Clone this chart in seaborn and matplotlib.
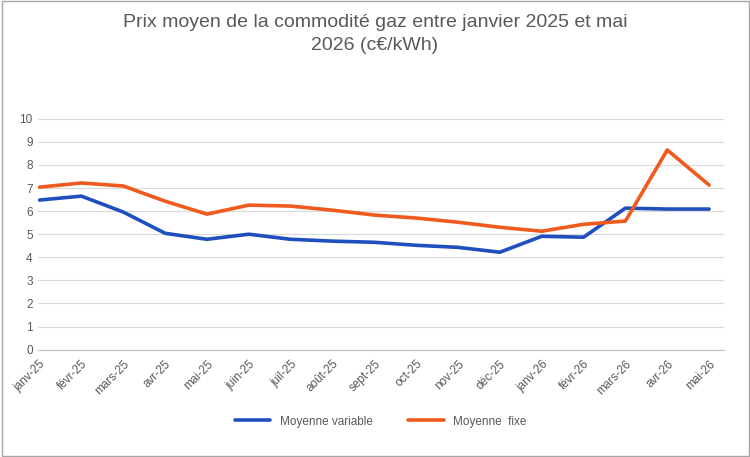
import matplotlib
matplotlib.use("Agg")
import matplotlib.pyplot as plt
import pandas as pd
import seaborn as sns

months = ["janv-25", "févr-25", "mars-25", "avr-25", "mai-25", "juin-25", "juil-25",
          "août-25", "sept-25", "oct-25", "nov-25", "déc-25", "janv-26", "févr-26",
          "mars-26", "avr-26", "mai-26"]
variable = [6.48, 6.65, 5.96, 5.04, 4.78, 5.0, 4.78, 4.7, 4.65, 4.52, 4.43, 4.22,
            4.91, 4.87, 6.13, 6.09, 6.09]
fixe = [7.04, 7.22, 7.09, 6.43, 5.87, 6.26, 6.22, 6.04, 5.83, 5.7, 5.52, 5.3,
        5.13, 5.43, 5.57, 8.65, 7.13]

df = pd.DataFrame({"mois": months * 2,
                   "prix": variable + fixe,
                   "serie": ["Moyenne variable"] * 17 + ["Moyenne  fixe"] * 17})
df["x"] = list(range(17)) * 2

sns.set_style("white")
plt.rcParams["font.family"] = ["Liberation Sans", "DejaVu Sans"]

fig, ax = plt.subplots(figsize=(7.5, 4.57), dpi=100)
fig.subplots_adjust(left=0.05, right=0.965, top=0.74, bottom=0.235)
sns.lineplot(data=df, x="x", y="prix", hue="serie",
             palette=["#1F4FBF", "#F05A1E"], linewidth=2.6, ax=ax, legend=True)

ax.set_ylim(0, 10)
ax.set_yticks(range(11))
ax.set_xlim(-0.05, 16.35)
ax.set_xticks(range(17))
ax.set_xticklabels(months, rotation=45, ha="right", rotation_mode="anchor")
ax.tick_params(axis="both", labelsize=8.5, colors="#595959", length=0)
ax.tick_params(axis="x", pad=6)
ax.grid(axis="y", color="#D9D9D9", linewidth=0.8)
for s in ["top", "right", "left"]:
    ax.spines[s].set_visible(False)
ax.spines["bottom"].set_color("#BFBFBF")
ax.set_xlabel("")
ax.set_ylabel("")

leg = ax.legend(loc="upper center", bbox_to_anchor=(0.5, -0.24), ncol=2,
                frameon=False, fontsize=8.5, columnspacing=3, handlelength=3)
for t in leg.get_texts():
    t.set_color("#595959")

fig.suptitle("Prix moyen de la commodité gaz entre janvier 2025 et mai\n2026 (c€/kWh)",
             fontsize=14, color="#595959", y=0.97, linespacing=1.5)
fig.patches.append(plt.Rectangle((0.002, 0.002), 0.996, 0.996, transform=fig.transFigure,
                                 fill=False, edgecolor="#A6A6A6", linewidth=1))
fig.savefig("out.png", dpi=100)
